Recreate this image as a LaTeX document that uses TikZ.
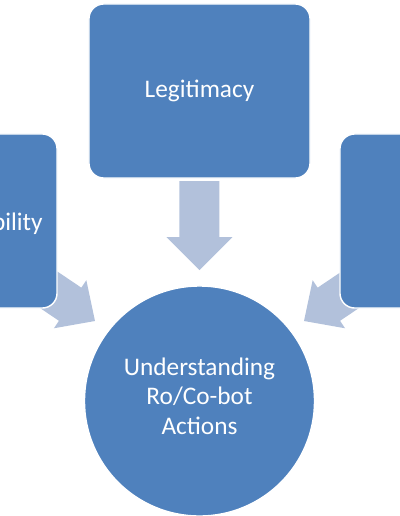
\documentclass[tikz,border=0pt]{standalone}
\usepackage{fontspec}
\setmainfont{Carlito}
\usetikzlibrary{backgrounds}
\definecolor{boxblue}{RGB}{79,129,189}
\definecolor{arrowblue}{RGB}{178,193,219}

\begin{document}
\begin{tikzpicture}[x=0.025cm, y=-0.025cm,
    box/.style={rectangle, rounded corners=0.37cm, draw=white, line width=1pt, fill=boxblue,
        minimum width=5.525cm, minimum height=4.35cm, text=white, font=\fontsize{18}{21}\selectfont},
    hub/.style={circle, draw=white, line width=1pt, fill=boxblue, minimum size=5.75cm, inner sep=0pt},
    boxtext/.style={inner sep=0pt, align=center, text=white, font=\fontsize{18}{21}\selectfont},
    blockarrow/.style={fill=arrowblue}]
    \useasboundingbox (0,0) rectangle (400,516);
    \clip (0,0) rectangle (400,516);

    % outer boxes and centre circle
    \node[box] (legit) at (199.5,91) {Legitimacy};
    \node[box] (leftbox) at (-53.5,221) {};
    \node[boxtext, anchor=base east] (lefttext) at (43,230) {bility};
    \node[box] (rightbox) at (450.5,221) {};
    \node[hub] (actions) at (199.5,401) {};
    \node[boxtext] (actionstext) at (199.5,396) {Understanding\\Ro/Co-bot\\Actions};

    % arrow tips
    \coordinate (tipT) at (199.5,270);
    \coordinate (tipL) at (95,321);
    \coordinate (tipR) at (304,321);

    % block arrows behind the boxes
    \begin{scope}[on background layer]
    \foreach \tip/\ang/\hl/\hw in {tipT/-90/33/33, tipL/-34/30/29, tipR/-146/30/29}
        \fill[blockarrow, shift={(\tip)}, rotate=\ang]
            (0,0) -- (-\hl,\hw) -- (-\hl,20) -- (-\hl-56,20) -- (-\hl-56,-20) -- (-\hl,-20) -- (-\hl,-\hw) -- cycle;
    \end{scope}
\end{tikzpicture}
\end{document}
